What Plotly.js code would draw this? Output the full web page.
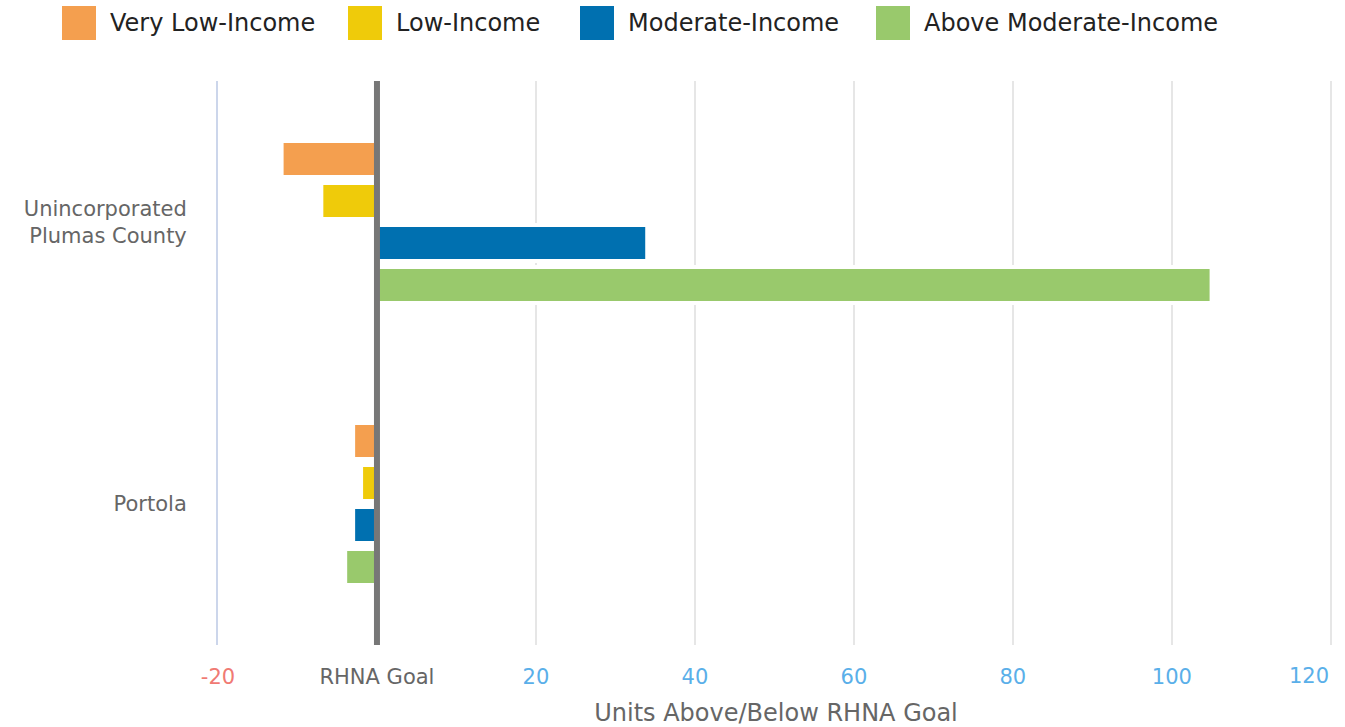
<!DOCTYPE html>
<html>
<head>
<meta charset="utf-8">
<script src="https://cdn.plot.ly/plotly-3.0.1.min.js"></script>
<style>html,body{margin:0;padding:0;background:#fff;}#chart{width:1345px;height:727px;}</style>
</head>
<body>
<div id="chart"></div>
<script>
// ---- data ----
const categories = ['Unincorporated<br>Plumas County', 'Portola'];
const seriesNames = ['Very Low-Income', 'Low-Income', 'Moderate-Income', 'Above Moderate-Income'];
const veryLowIncome = [-12, -3];
const lowIncome = [-7, -2];
const moderateIncome = [34, -3];
const aboveModerateIncome = [105, -4];
const tickValues = [-20, 0, 20, 40, 60, 80, 100, 120];
const tickLabels = ['-20', 'RHNA Goal', '20', '40', '60', '80', '100', '120'];
const xTitle = 'Units Above/Below RHNA Goal';

// ---- style ----
const colors = ['#f49f4f', '#efcb0a', '#0070b0', '#99c96c'];
const seriesValues = [veryLowIncome, lowIncome, moderateIncome, aboveModerateIncome];
const FONT = 'DejaVu Sans, sans-serif';

const traces = seriesValues.map((vals, i) => ({
  type: 'bar',
  orientation: 'h',
  name: seriesNames[i],
  y: categories,
  x: vals,
  marker: {color: colors[i], line: {color: '#ffffff', width: 4}},
  showlegend: false,
  hoverinfo: 'x+name'
}));

function tickColor(v) { return v < 0 ? '#f07a73' : (v === 0 ? '#666666' : '#5aafe9'); }
const lastIdx = tickLabels.length - 1;
// last label is drawn right-aligned to its gridline (annotation below) so it stays inside the chart
const tickText = tickLabels.map((t, i) => i === lastIdx ? '' :
  '<span style="color:' + tickColor(tickValues[i]) + '">' + t + '</span>');

// custom legend (large square swatches)
const L = 218, R = 1334, T = 81, B = 645;
const px = p => (p - L) / (R - L);
const py = p => 1 - (p - T) / (B - T);
const legendX = [62, 348, 580, 876];
const shapes = [];
const annotations = [];
seriesNames.forEach((n, i) => {
  shapes.push({type: 'rect', xref: 'paper', yref: 'paper',
    x0: px(legendX[i]), x1: px(legendX[i] + 34), y0: py(40), y1: py(6),
    fillcolor: colors[i], line: {width: 0}});
  annotations.push({xref: 'paper', yref: 'paper', x: px(legendX[i] + 46), y: py(23),
    xanchor: 'left', yanchor: 'middle', showarrow: false, text: n,
    font: {family: FONT, size: 24, color: '#222222'}});
});
annotations.push({xref: 'x', yref: 'paper', x: tickValues[lastIdx], y: py(676),
  xanchor: 'right', yanchor: 'middle', showarrow: false, text: tickLabels[lastIdx],
  font: {family: FONT, size: 21, color: tickColor(tickValues[lastIdx])}});
// RHNA goal line
shapes.push({type: 'line', xref: 'x', yref: 'paper', x0: 0, x1: 0, y0: 0, y1: 1,
  line: {color: '#777777', width: 6}, layer: 'above'});

const layout = {
  width: 1345, height: 727,
  margin: {l: L, r: 1345 - R, t: T, b: 727 - B, pad: 0},
  paper_bgcolor: '#ffffff', plot_bgcolor: '#ffffff',
  barmode: 'group', bargap: 0.404, bargroupgap: 0.143,
  font: {family: FONT, color: '#666666'},
  xaxis: {
    range: [-20, 120.4], tickmode: 'array', tickvals: tickValues, ticktext: tickText,
    showgrid: true, gridcolor: '#e6e6e6', gridwidth: 2, zeroline: false,
    showline: false, ticks: '', tickfont: {family: FONT, size: 21},
    ticklabelstandoff: 17,
    title: {text: xTitle, font: {family: FONT, size: 24, color: '#666666'}, standoff: 22},
    fixedrange: true
  },
  yaxis: {
    type: 'category', autorange: 'reversed', showgrid: false, zeroline: false,
    showline: true, linecolor: '#ccd6eb', linewidth: 2,
    ticks: '', ticklabelstandoff: 25, tickfont: {family: FONT, size: 21, color: '#666666'},
    fixedrange: true
  },
  shapes: shapes,
  annotations: annotations
};

Plotly.newPlot('chart', traces, layout, {displayModeBar: false, staticPlot: true});
</script>
</body>
</html>
